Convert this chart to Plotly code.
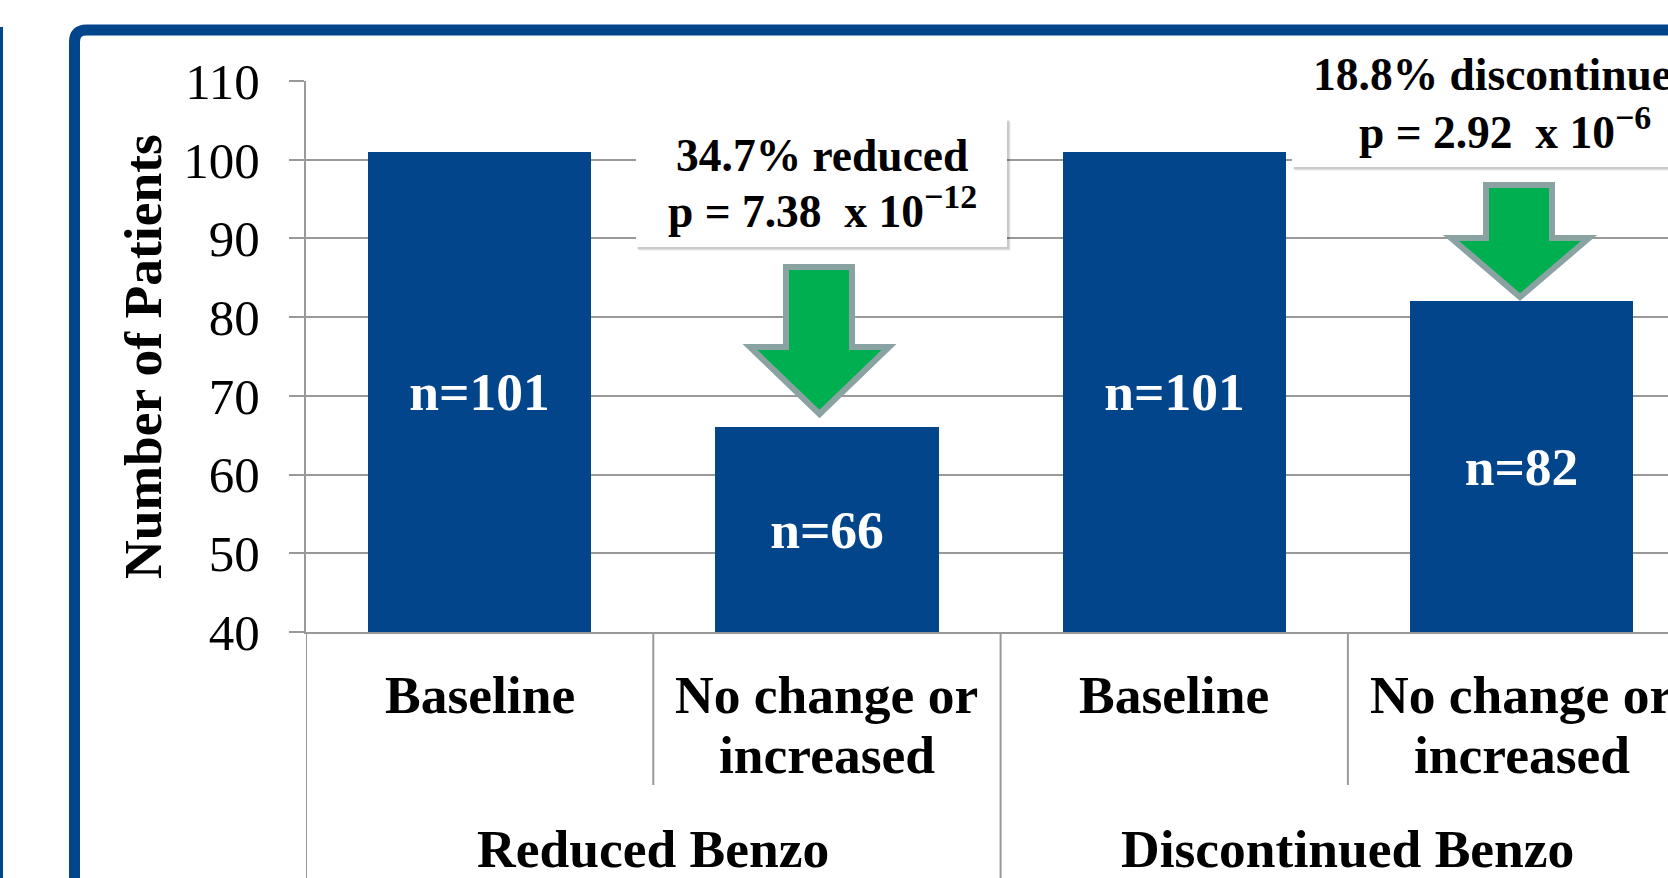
import plotly.graph_objects as go

# ---- data -------------------------------------------------------------
groups = ["Reduced Benzo", "Reduced Benzo", "Discontinued Benzo", "Discontinued Benzo"]
stages = ["Baseline", "No change or\nincreased", "Baseline", "No change or\nincreased"]
patients = [101, 66, 101, 82]

# callouts: (bar index, headline, p mantissa, p exponent)
callouts = [
    (1, "34.7% reduced", "7.38", "\u221212"),
    (3, "18.8% discontinued", "2.92", "\u22126"),
]

y_ticks = [40, 50, 60, 70, 80, 90, 100, 110]
y_base = 40

# ---- layout geometry ----------------------------------------------------
W, H = 1668, 878
L, R, T, B = 306, 0, 81, 246
PW, PH = W - L - R, H - T - B
CAT_W = 347.3  # pixel width of one category slot

FONT = "Liberation Serif"
BLUE = "#03458b"
GRID = "#999999"
GREEN = "#00b050"
ARROW_EDGE = "#8aa2a2"
LABEL_SIZE = 53.5
BOX_SIZE = 45.5


def px(x):
    return (x - L) / PW


def py(y):
    return (T + PH - y) / PH


positions = list(range(len(patients)))

fig = go.Figure()
fig.add_trace(go.Bar(
    x=positions,
    y=[v - y_base for v in patients],
    base=y_base,
    width=0.643,
    marker=dict(color=BLUE, line=dict(width=0)),
    text=[f"n={v}" for v in patients],
    textposition="inside",
    insidetextanchor="middle",
    textangle=0,
    textfont=dict(family=FONT, size=LABEL_SIZE, color="white", weight="bold"),
    hoverinfo="skip",
))

shapes = []
annotations = []

# category dividers below the axis
for i in range(len(positions) + 1):
    xb = i - 0.5
    new_group = i == 0 or i == len(positions) or groups[i] != groups[i - 1]
    shapes.append(dict(
        type="line", xref="x", yref="paper",
        x0=xb, x1=xb, y0=0, y1=py(910) if new_group else py(785),
        line=dict(color=GRID, width=2), layer="above",
    ))

# inner category labels
for i, lab in enumerate(stages):
    for k, line in enumerate(lab.split("\n")):
        annotations.append(dict(
            x=positions[i], y=py(694.5 + 61 * k), xref="x", yref="paper",
            text=line, showarrow=False, xanchor="center", yanchor="middle",
            font=dict(family=FONT, size=LABEL_SIZE, color="black", weight="bold"),
        ))

# group labels
seen = []
for g in groups:
    if g not in seen:
        seen.append(g)
for g in seen:
    idx = [i for i, gg in enumerate(groups) if gg == g]
    annotations.append(dict(
        x=sum(positions[i] for i in idx) / len(idx), y=py(849),
        xref="x", yref="paper", text=g, showarrow=False,
        xanchor="center", yanchor="middle",
        font=dict(family=FONT, size=LABEL_SIZE, color="black", weight="bold"),
    ))

# y axis title
annotations.append(dict(
    x=px(143), y=py(357), xref="paper", yref="paper",
    text="Number of Patients", textangle=-90, showarrow=False,
    xanchor="center", yanchor="middle",
    font=dict(family=FONT, size=LABEL_SIZE, color="black", weight="bold"),
))

# callout boxes and arrows
box_geo = {
    1: dict(x0=636, x1=1007, y0=118, y1=247, tx=822, l1=155, l2=207,
            shaft=(786, 852), top=267, shoulder=347, head=(750, 889), tip=414),
    3: dict(x0=1292, x1=1710, y0=39, y1=167, tx=1505, l1=75, l2=128,
            shaft=(1486, 1552), top=185, shoulder=238, head=(1451, 1589), tip=297),
}
for idx, head, mant, expo in callouts:
    g = box_geo[idx]
    for k, a in enumerate([0.10, 0.07, 0.05]):
        o = k + 2
        shapes.append(dict(
            type="rect", xref="paper", yref="paper",
            x0=px(g["x0"] + o - 1), x1=px(g["x1"] + o), y0=py(g["y0"] + o), y1=py(g["y1"] + o),
            fillcolor=f"rgba(0,0,0,{a})", line=dict(width=0), layer="above",
        ))
    shapes.append(dict(
        type="rect", xref="paper", yref="paper",
        x0=px(g["x0"]), x1=px(g["x1"]), y0=py(g["y0"]), y1=py(g["y1"]),
        fillcolor="white", line=dict(width=0), layer="above",
    ))
    annotations.append(dict(
        x=px(g["tx"]), y=py(g["l1"]), xref="paper", yref="paper",
        text=head, showarrow=False, xanchor="center", yanchor="middle",
        font=dict(family=FONT, size=BOX_SIZE, color="black", weight="bold"),
    ))
    annotations.append(dict(
        x=px(g["tx"]), y=py(g["l2"]), xref="paper", yref="paper",
        text=(f"p = {mant}\u00a0 x 10"
              f"<sup><span style='font-size:34px'>{expo}</span></sup>"),
        showarrow=False, xanchor="center", yanchor="middle",
        font=dict(family=FONT, size=BOX_SIZE, color="black", weight="bold"),
    ))
    sl, sr = g["shaft"]
    hl, hr = g["head"]
    cx = (hl + hr) / 2
    pts = [(sl, g["top"]), (sr, g["top"]), (sr, g["shoulder"]), (hr, g["shoulder"]),
           (cx, g["tip"]), (hl, g["shoulder"]), (sl, g["shoulder"])]
    path = "M " + " L ".join(f"{px(a):.5f},{py(b):.5f}" for a, b in pts) + " Z"
    shapes.append(dict(
        type="path", xref="paper", yref="paper", path=path,
        fillcolor=GREEN, line=dict(color=ARROW_EDGE, width=6), layer="above",
    ))

# slide frame
r = 12
fx, fy = 74.5, 30
frame = (f"M {px(fx):.5f},{py(900):.5f} L {px(fx):.5f},{py(fy + r):.5f} "
         f"Q {px(fx):.5f},{py(fy):.5f} {px(fx + r):.5f},{py(fy):.5f} "
         f"L {px(1700):.5f},{py(fy):.5f}")
shapes.append(dict(type="path", xref="paper", yref="paper", path=frame,
                   line=dict(color=BLUE, width=11), layer="above"))
shapes.append(dict(type="line", xref="paper", yref="paper",
                   x0=px(1.5), x1=px(1.5), y0=py(27), y1=py(900),
                   line=dict(color=BLUE, width=3), layer="above"))

fig.update_layout(
    width=W, height=H,
    margin=dict(l=L, r=R, t=T, b=B, pad=0),
    paper_bgcolor="white", plot_bgcolor="white",
    showlegend=False,
    bargap=0,
    shapes=shapes,
    annotations=annotations,
    xaxis=dict(
        type="linear", range=[-0.5, -0.5 + PW / CAT_W],
        showticklabels=False, showgrid=False, zeroline=False,
        showline=True, linecolor=GRID, linewidth=2, ticks="",
        fixedrange=True,
    ),
    yaxis=dict(
        range=[y_base, 110], tickvals=y_ticks,
        showgrid=True, gridcolor=GRID, gridwidth=2,
        zeroline=False, showline=True, linecolor=GRID, linewidth=2,
        ticks="outside", ticklen=15, tickwidth=2, tickcolor=GRID,
        ticklabelstandoff=19,
        tickfont=dict(family=FONT, size=51, color="black"),
        fixedrange=True,
    ),
)

fig.write_html("out.html")
